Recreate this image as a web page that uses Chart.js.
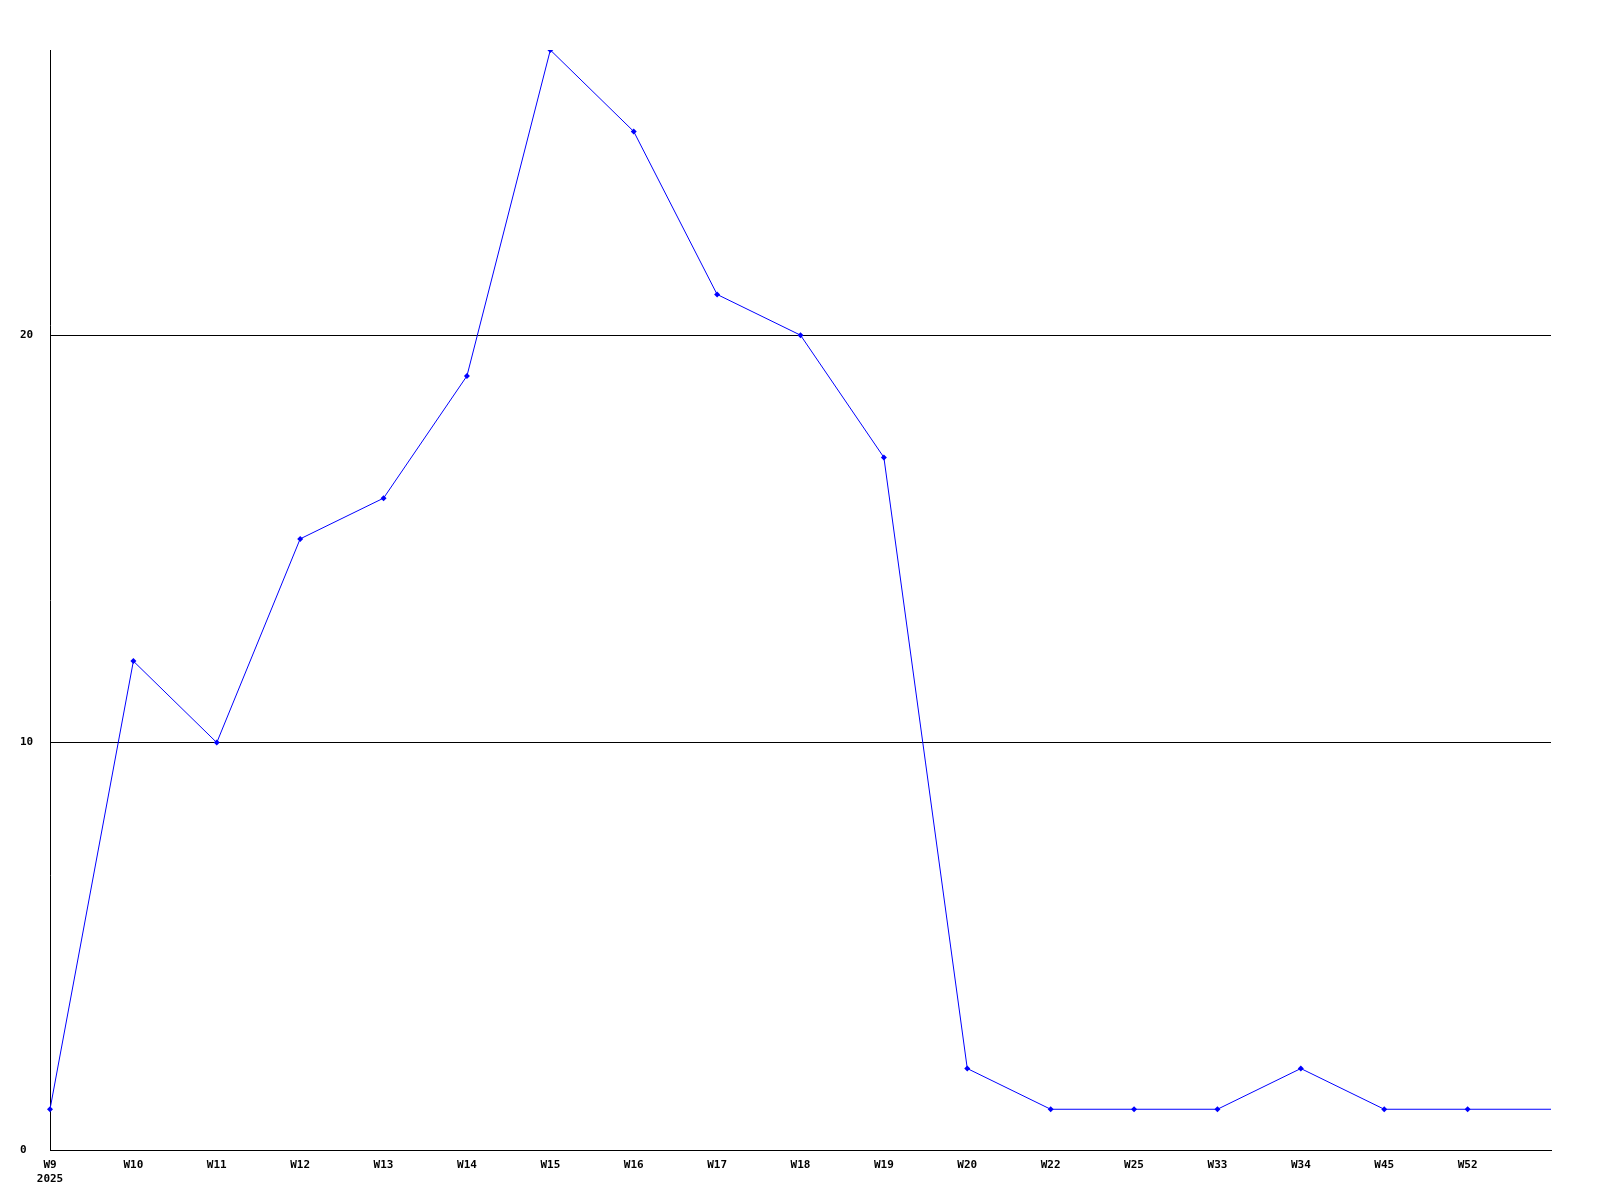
<!DOCTYPE html>
<html>
<head>
<meta charset="utf-8">
<script src="https://cdn.jsdelivr.net/npm/chart.js@4/dist/chart.umd.min.js"></script>
<style>
  html, body { margin: 0; padding: 0; background: #fff; }
  #wrap { width: 1600px; height: 1200px; }
</style>
</head>
<body>
<div id="wrap"><canvas id="grafico"></canvas></div>
<script>
const semanas = [['W9', '2025'], 'W10', 'W11', 'W12', 'W13', 'W14', 'W15', 'W16', 'W17', 'W18', 'W19', 'W20', 'W22', 'W25', 'W33', 'W34', 'W45', 'W52', ''];
const valores = [1, 12, 10, 15, 16, 19, 27, 25, 21, 20, 17, 2, 1, 1, 1, 2, 1, 1, 1];
const yMin = 0;
const yMax = 27;
const yPasso = 10;

const fonte = { family: "'DejaVu Sans Mono', monospace", size: 11, weight: 'bold', lineHeight: 1.3 };

const ctx = document.getElementById('grafico').getContext('2d');

const grafico = new Chart(ctx, {
  type: 'line',
  data: {
    labels: semanas,
    datasets: [
      {
        data: valores,
        borderColor: '#0000ff',
        backgroundColor: '#0000ff',
        borderWidth: 1,
        pointStyle: 'rectRot',
        pointRadius: valores.map((v, i) => (i === valores.length - 1 ? 0 : 3)),
        pointBorderWidth: 0,
        pointBackgroundColor: '#0000ff',
        tension: 0,
        fill: false,
      },
    ],
  },
  options: {
    responsive: true,
    maintainAspectRatio: false,
    animation: false,
    layout: {
      padding: { left: 20, top: 50, right: 49, bottom: 0 },
    },
    scales: {
      x: {
        offset: false,
        grid: { display: false },
        border: { display: true, color: '#000', width: 1 },
        ticks: {
          color: '#000',
          font: fonte,
          padding: 0,
          maxRotation: 0,
          autoSkip: false,
        },
        afterFit: (scale) => { scale.height = 50; },
      },
      y: {
        min: yMin,
        max: yMax,
        grid: { color: '#000', lineWidth: 1, drawTicks: false },
        border: { display: true, color: '#000', width: 1 },
        ticks: {
          stepSize: yPasso,
          includeBounds: false,
          color: '#000',
          font: fonte,
          crossAlign: 'far',
          padding: 0,
        },
        afterFit: (scale) => { scale.width = 30; },
      },
    },
    plugins: {
      legend: { display: false },
      tooltip: { enabled: false },
    },
  },
});
</script>
</body>
</html>
